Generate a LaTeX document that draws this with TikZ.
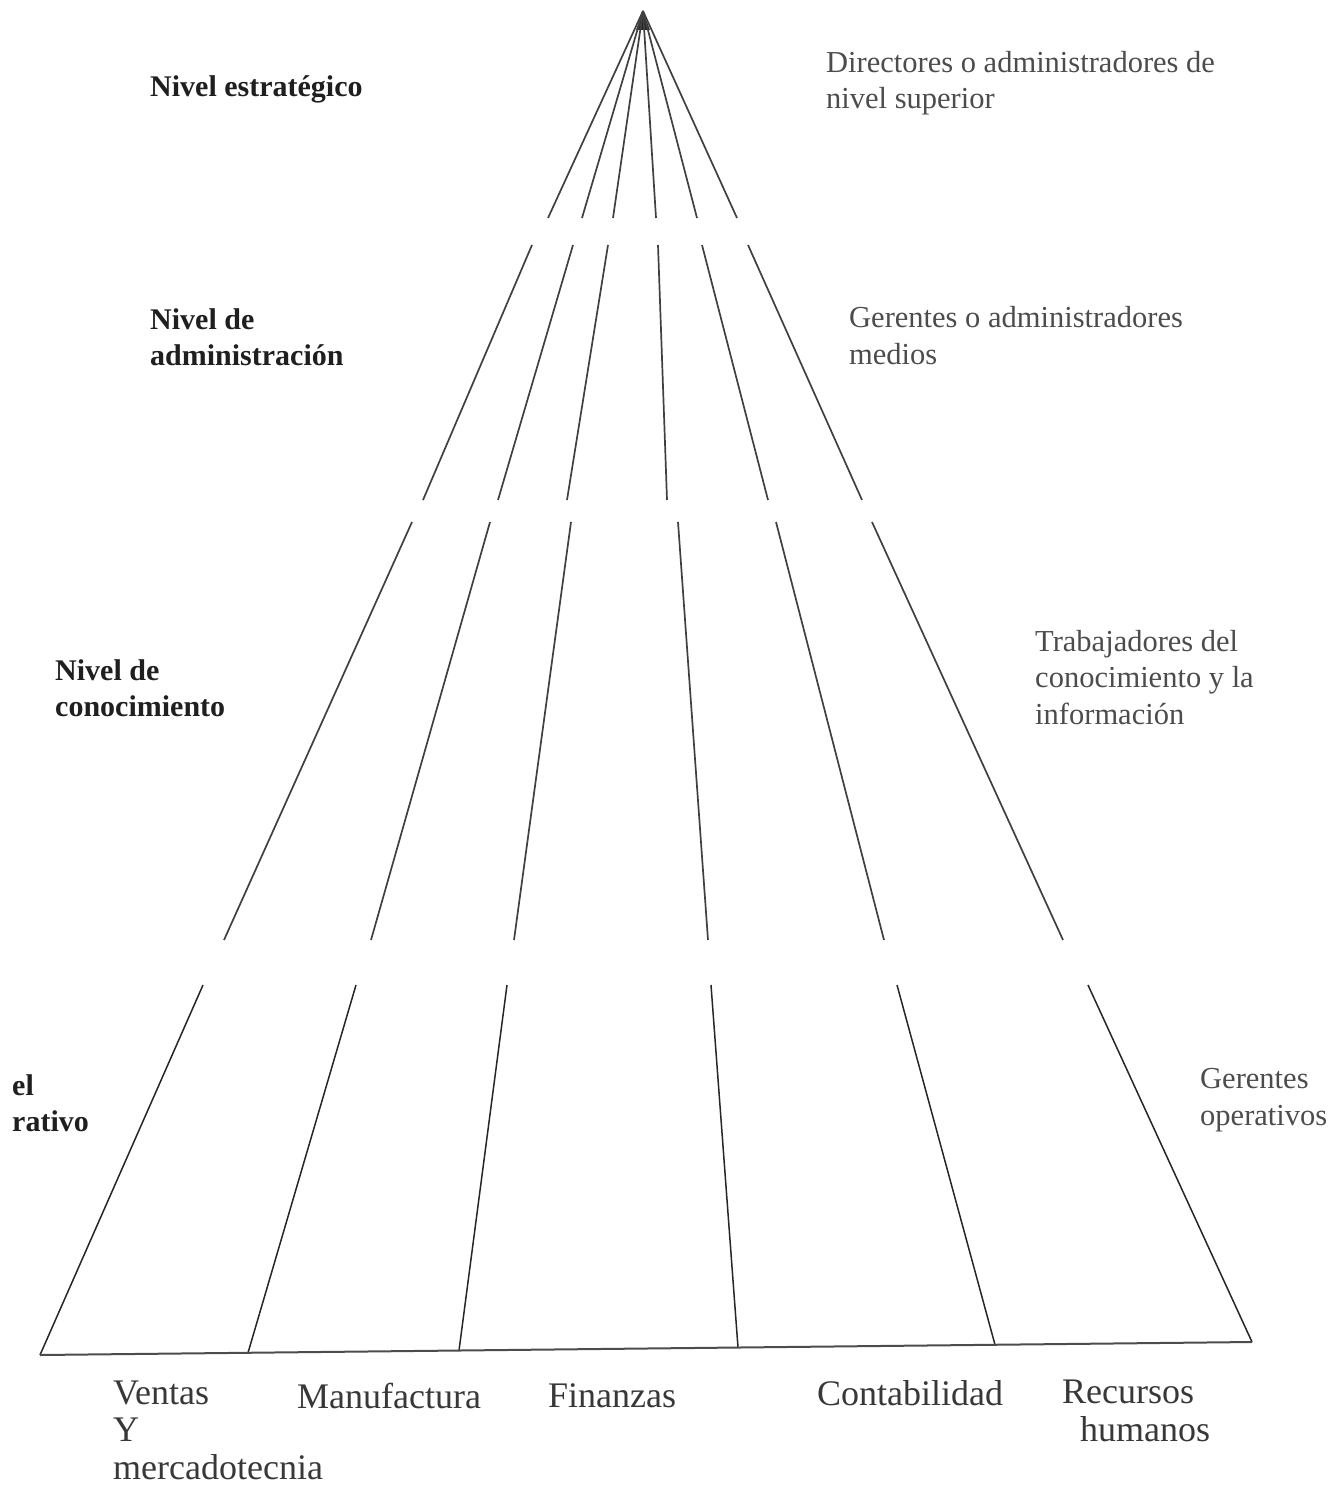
\documentclass[tikz,border=0pt]{standalone}
\usepackage{fontspec}
\setmainfont{Liberation Serif}
\begin{document}
\begin{tikzpicture}[x=1pt,y=-1pt,
  edge/.style={draw=black!75, line width=1.7pt},
  lvl/.style={anchor=base west, inner sep=0pt, align=left, text=black!88,
              font=\fontsize{30}{36}\selectfont\bfseries},
  role/.style={anchor=base west, inner sep=0pt, align=left, text=black!70,
               font=\fontsize{30.5}{36.5}\selectfont},
  area/.style={anchor=base west, inner sep=0pt, align=left, text=black!78,
               font=\fontsize{36}{37.5}\selectfont}]
\useasboundingbox (0,0) rectangle (1343,1487);

% apex
\coordinate (apex) at (643,11);
\fill[black!85] (apex) -- (650,30) -- (636,30) -- cycle;

% tier 1: rays from the apex
\foreach \i/\x in {1/548,2/582,3/613,4/656,5/697,6/737}
  \draw[edge] (apex) -- (\x,218) coordinate (ta\i);

% tier 2
\foreach \i/\a/\b in {1/532/423,2/573/498,3/608/567,4/658/667,5/702/768,6/748/862}
  \draw[edge] (\a,245) coordinate (tb\i) -- (\b,500);

% tier 3
\foreach \i/\a/\b in {1/412/224,2/490/371,3/571/514,4/678/708,5/776/884,6/872/1063}
  \draw[edge] (\a,522) coordinate (tc\i) -- (\b,940);

% tier 4, down to the base line
\coordinate (bl) at (40,1355);
\coordinate (br) at (1252,1342);
\foreach \i/\a/\b in {1/203/40,2/356/248,3/507/459,4/711/738,5/897/995,6/1088/1252}
  \draw[edge, draw=black!85, line width=1.5pt] (\a,985) -- (\b,{1355-13*(\b-40)/1212}) coordinate (td\i);
\draw[draw=black!70, line width=2pt] (bl) -- (br);

% levels (left); multi-line labels are placed by the baseline of their last line
\node[lvl] (l1) at (150,97) {Nivel estratégico};
\node[lvl] (l2) at (150,365) {Nivel de\\administración};
\node[lvl] (l3) at (55,716) {Nivel de\\conocimiento};
\node[lvl] (l4) at (12,1131) {el\\rativo};

% roles (right)
\node[role] (r1) at (826,109) {Directores o administradores de\\nivel superior};
\node[role] (r2) at (849,364) {Gerentes o administradores\\medios};
\node[role] (r3) at (1035,724) {Trabajadores del\\conocimiento y la\\información};
\node[role] (r4) at (1200,1125) {Gerentes\\operativos};

% functional areas (bottom)
\node[area] (a1) at (113,1479) {Ventas\\Y\\mercadotecnia};
\node[area] (a2) at (297,1408) {Manufactura};
\node[area] (a3) at (548,1407) {Finanzas};
\node[area] (a4) at (817,1405) {Contabilidad};
\node[area] (a5) at (1062,1441) {Recursos\\\hspace*{18pt}humanos};
\end{tikzpicture}
\end{document}
